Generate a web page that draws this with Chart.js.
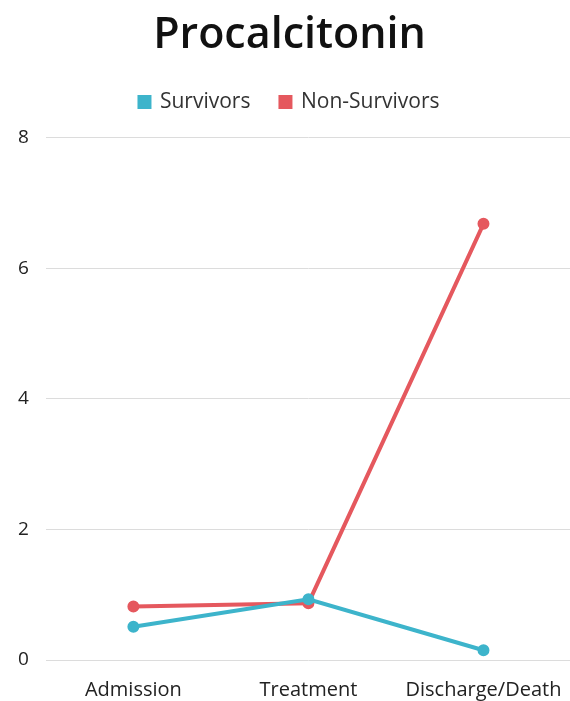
<!DOCTYPE html>
<html>
<head>
<meta charset="utf-8">
<script src="https://cdn.jsdelivr.net/npm/chart.js@4"></script>
<style>
  html, body { margin: 0; padding: 0; background: #fff; overflow: hidden; }
  #clip { width: 570px; height: 701px; overflow: hidden; }
  canvas { display: block; }
</style>
</head>
<body>
<div id="clip"><canvas id="pctChart" width="580" height="712"></canvas></div>
<script>
// Procalcitonin levels by stage
const stages = ['Admission', 'Treatment', 'Discharge/Death'];
const survivors = [0.51, 0.93, 0.15];
const nonSurvivors = [0.82, 0.87, 6.68];
const yTicks = [0, 2, 4, 6, 8];

const blue = '#3db4cb';
const red = '#e5585e';
const font = 'Open Sans';

const ctx = document.getElementById('pctChart').getContext('2d');
const chart = new Chart(ctx, {
    type: 'line',
    data: {
        labels: stages,
        datasets: [
            {
                label: 'Survivors',
                data: survivors,
                borderColor: blue,
                backgroundColor: blue,
                borderWidth: 4,
                pointRadius: 4,
                pointHoverRadius: 5,
                tension: 0
            },
            {
                label: 'Non-Survivors',
                data: nonSurvivors,
                borderColor: red,
                backgroundColor: red,
                borderWidth: 4,
                pointRadius: 4,
                pointHoverRadius: 5,
                tension: 0
            }
        ]
    },
    options: {
        responsive: false,
        animation: false,
        layout: { padding: { left: 1, right: 2, top: 10, bottom: 0 } },
        plugins: {
            title: {
                display: true,
                text: 'Procalcitonin',
                color: '#111',
                font: { family: font, size: 43, weight: '600' },
                padding: { top: 0, bottom: 0 }
            },
            legend: {
                labels: {
                    boxWidth: 10,
                    boxHeight: 10,
                    color: '#333',
                    padding: 30,
                    font: { family: font, size: 21 }
                }
            },
            tooltip: { enabled: false }
        },
        scales: {
            x: {
                offset: true,
                grid: { display: false },
                border: { display: false },
                ticks: {
                    color: '#222',
                    padding: 10,
                    maxRotation: 0,
                    font: { family: font, size: 20 }
                }
            },
            y: {
                min: yTicks[0],
                max: yTicks[yTicks.length - 1],
                afterBuildTicks: axis => {
                    axis.ticks = yTicks.map(v => ({ value: v }));
                },
                grid: { color: '#dcdcdc', lineWidth: 1, drawTicks: false },
                border: { display: false },
                ticks: {
                    color: '#222',
                    padding: 17,
                    font: { family: font, size: 19 }
                }
            }
        }
    }
});

// leave more room between the legend and the plot
const legendFit = chart.legend.fit;
chart.legend.fit = function () {
    legendFit.call(this);
    this.height += 15;
};
chart.update();
</script>
</body>
</html>
